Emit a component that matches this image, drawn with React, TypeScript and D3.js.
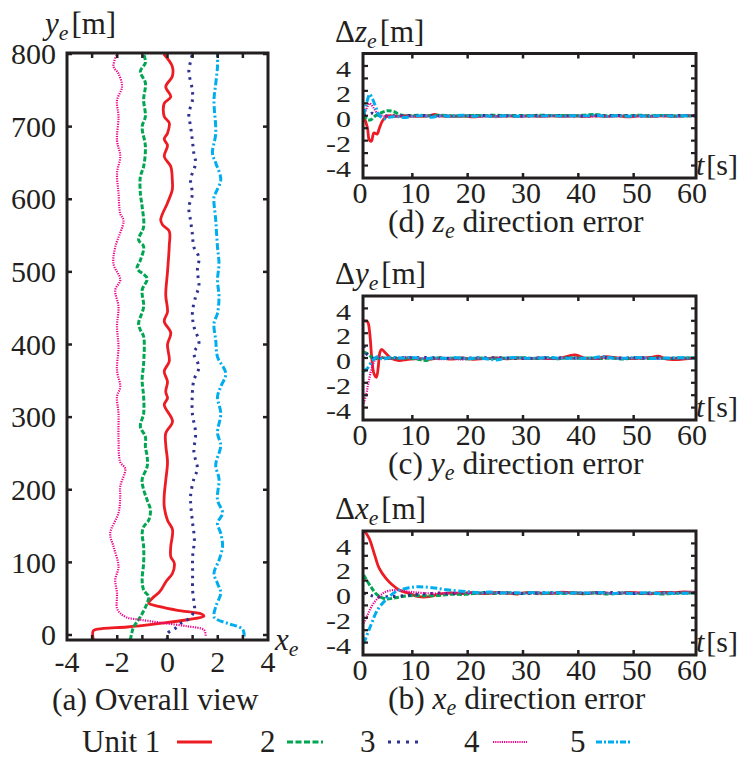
import React from 'react';
import * as d3 from 'd3';

const FAMILY = 'Liberation Serif';
const TS = { fontFamily: `'${FAMILY}'` };
const INK = '#231f20';

// ---- series styling ----
const unitNames = ['Unit 1', '2', '3', '4', '5'];
const unitColors = ['#ed1c24', '#00a651', '#2e3192', '#ec008c', '#00aeef'];
const unitWidths = [2.8, 3, 3, 2.2, 3];
const unitDashes = ['none', '5 2', '2.5 5', '1.2 1.2', '7 2.5 2 2.5'];
const legendDashes = ['none', '6 2.5', '3 6', '1.2 1', '6 2 2 2'];

// ---- ticks ----
const overviewXTicks = [-4, -2, 0, 2, 4];
const overviewXMinor = [-3, -2, -1, 0, 1, 2, 3];
const overviewYTicks = [0, 100, 200, 300, 400, 500, 600, 700, 800];
const errYTicks = [4, 2, 0, -2, -4];
const errYMinor = [-4, -3, -2, -1, 0, 1, 2, 3, 4];
const timeTicks = [0, 10, 20, 30, 40, 50, 60];
const timeMinor = [10, 20, 30, 40, 50];

// ---- (a) overall view: [x_e, y_e] ----
const unit1Path = [[-2.95,-7],[-2.95,6],[-2.55,9],[-1.6,11],[-0.3,16],[0.8,21],[1.45,26],[1.35,29],[0.4,34],[-0.3,39],[-0.75,44],[-0.62,50],[-0.3,60],[-0.05,74],[0.2,85],[0.27,99],[0.13,108],[0.13,122],[0.2,145],[0.0,158],[-0.13,177],[-0.13,192],[-0.07,213],[0,238],[-0.07,262],[-0.07,278],[0.2,294],[-0.13,317],[0,326],[-0.07,335],[0,349],[-0.13,363],[0.07,377],[0,400],[0.13,416],[-0.13,432],[0,445],[-0.07,468],[0,500],[0.07,536],[0.07,556],[-0.2,565],[-0.27,572],[0,595],[0.19,613],[0.19,627],[0.13,645],[-0.13,659],[0,674],[-0.13,683],[0,691],[0.07,705],[-0.13,714],[-0.13,732],[0.13,741],[-0.07,755],[0.19,769],[0.19,783],[-0.15,800]];
const unit2Path = [[-1.48,-7],[-1.42,3],[-1.35,11],[-1.08,25],[-0.81,44],[-0.75,53],[-0.95,62],[-1.01,76],[-0.95,99],[-0.95,122],[-1.01,140],[-0.95,149],[-0.75,158],[-0.68,172],[-0.81,186],[-0.95,200],[-1.01,214],[-0.81,232],[-0.81,246],[-0.88,259],[-0.88,273],[-1.08,287],[-0.95,305],[-0.95,328],[-1.01,351],[-0.95,374],[-0.95,411],[-1.08,420],[-1.15,429],[-0.95,452],[-1.01,475],[-0.81,491],[-1.21,505],[-1.08,516],[-0.95,535],[-1.15,544],[-0.95,562],[-1.01,590],[-1.08,608],[-1.08,631],[-0.95,645],[-0.88,673],[-1.01,700],[-0.88,714],[-0.95,737],[-0.88,760],[-1.08,776],[-0.88,788],[-0.95,800]];
const unit3Path = [[0,-7],[0,2],[0.27,8],[0.53,16],[0.87,23],[1.07,34],[1.05,46],[1.0,62],[1.0,85],[1.0,108],[1.07,131],[1.0,154],[0.93,177],[0.92,192],[1.05,215],[1.19,229],[1.05,252],[1.12,278],[0.99,305],[0.99,333],[1.05,351],[1.25,369],[1.05,388],[1.25,402],[1.05,425],[0.99,443],[1.12,466],[1.25,480],[1.19,502],[1.25,520],[1.05,534],[0.99,552],[0.92,570],[0.85,589],[0.99,607],[0.92,627],[1.12,650],[1.05,663],[0.99,681],[0.92,700],[0.85,718],[0.99,736],[0.99,750],[0.85,776],[0.92,790],[0.99,800]];
const unit4Path = [[1.52,-1],[1.45,7],[0.79,12],[-0.28,17],[-1.08,21],[-1.61,24],[-1.88,30],[-2.01,37],[-2.01,58],[-2.08,76],[-1.95,94],[-2.15,122],[-2.28,140],[-1.95,168],[-1.88,190],[-1.88,205],[-1.68,229],[-1.88,238],[-1.95,270],[-1.95,305],[-2.01,328],[-1.88,342],[-2.01,364],[-1.95,397],[-2.01,425],[-1.95,452],[-2.08,475],[-1.88,489],[-2.15,511],[-2.08,534],[-1.75,571],[-1.88,580],[-1.95,609],[-2.01,636],[-1.88,659],[-2.01,681],[-1.95,714],[-2.01,736],[-1.81,755],[-1.95,773],[-2.15,783],[-2.01,800]];
const unit5Path = [[3.05,-2],[2.99,8],[2.39,16],[1.99,21],[1.85,25],[1.92,39],[2.12,58],[1.99,71],[1.85,85],[2.05,103],[2.19,122],[2.12,140],[1.99,154],[2.19,168],[1.99,186],[2.05,215],[1.92,234],[2.12,261],[1.99,278],[2.12,305],[1.99,328],[2.12,342],[2.32,360],[1.99,383],[1.92,406],[1.85,429],[1.99,443],[2.05,466],[1.99,489],[2.05,511],[1.99,534],[1.92,571],[1.85,603],[1.92,609],[2.12,627],[1.92,650],[1.79,663],[1.92,691],[1.85,736],[1.92,759],[1.99,783],[1.99,800]];
const overviewPaths = [unit1Path, unit2Path, unit3Path, unit4Path, unit5Path];

// ---- (b) x_e direction error: [t, dx] ----
const dx1 = [[1.2,5.1],[2.2,4.4],[3.1,3.2],[4.0,2.0],[5.2,1.2],[6.4,0.65],[7.6,0.25],[9.4,-0.03],[11.2,-0.3],[13,-0.3],[14.8,-0.1],[17,0],[19,-0.05],[21,0.05],[23,-0.05],[25,0.05],[27,0],[29,-0.08],[31,0.05],[33,0],[35,-0.05],[37,0.06],[39,0],[41,-0.06],[43,0.04],[45,0],[47,-0.05],[49,0.05],[51,0],[53,-0.06],[55,0.05],[57,0.03],[59,0.08],[61.4,0.05]];
const dx2 = [[1.2,1.45],[2.5,0.5],[3.7,-0.16],[5.2,-0.48],[7,-0.38],[9.4,-0.22],[11.8,-0.22],[14.8,-0.2],[17,-0.1],[19,-0.12],[21,-0.05],[23,0],[25,-0.05],[27,0.03],[29,-0.04],[31,0],[33,-0.06],[35,0],[37,-0.05],[39,0.02],[41,-0.03],[43,0],[45,-0.08],[47,-0.03],[49,0],[51,-0.05],[53,0],[55,-0.08],[57,-0.04],[59,0],[61.4,-0.02]];
const dx3 = [[1.2,0],[2.2,-0.15],[3.4,-0.3],[5.8,-0.3],[8.8,-0.2],[11,-0.1],[13,-0.05],[15,0],[17,-0.05],[19,0.03],[21,0],[24,0.05],[27,0],[30,-0.04],[33,0],[36,0.03],[39,0],[42,-0.03],[45,0.05],[48,0],[51,-0.04],[54,0],[57,0.03],[60,0],[61.4,0]];
const dx4 = [[1.2,-2.45],[1.9,-1.77],[2.8,-0.97],[4,-0.3],[5.2,0.1],[7,0.24],[9.4,0.1],[12,0],[15,-0.05],[18,0.03],[21,0],[24,-0.04],[27,0.02],[30,0],[33,-0.03],[36,0],[39,0.03],[42,0],[45,-0.03],[48,0],[51,0.02],[54,-0.04],[57,0],[60,0.05],[61.4,0.03]];
const dx5 = [[1.2,-4.1],[2.5,-2.6],[3.7,-1.37],[5.2,-0.56],[7,0.1],[9.4,0.43],[11.2,0.5],[13.6,0.43],[16.6,0.24],[20.2,0.1],[22,0.02],[24,0.08],[26,0],[28,0.05],[30,-0.02],[32,0.05],[34,0],[36,0.04],[38,-0.03],[40,0.02],[42,0],[44,0.04],[46,-0.05],[48,0],[50,-0.04],[52,0.03],[54,-0.03],[56,0],[58,-0.05],[60,0],[61.4,0]];

// ---- (c) y_e direction error ----
const dy1 = [[1.2,3.0],[1.9,2.93],[2.3,2.0],[2.65,0.1],[3.05,-1.24],[3.5,-1.56],[3.85,-0.7],[4.1,0.38],[4.45,0.7],[5.2,0.38],[6.1,0],[7.6,-0.2],[9,-0.12],[11,-0.05],[13,-0.1],[15,0],[17,-0.08],[19,0],[21,-0.1],[23,-0.05],[25,0],[27,-0.07],[29,0],[31,-0.05],[33,0],[35,-0.05],[37,0],[38.5,0.2],[39.5,0.25],[41,0],[43,-0.05],[45,0.1],[47,0],[49,-0.05],[51,0],[53,0.05],[54.5,0.15],[56,-0.1],[58,-0.12],[60,-0.05],[61.4,0]];
const dy2 = [[1.2,0.5],[2.2,0.24],[3.1,-0.1],[4,0.05],[5,0],[7,-0.05],[9,0],[11,-0.1],[12.5,-0.2],[14,0],[16,-0.05],[18,0],[20,-0.08],[22,0],[24,-0.05],[26,0],[28,-0.04],[30,0.03],[32,-0.05],[34,0],[36,-0.06],[38,0],[40,-0.03],[42,0],[44,-0.05],[46,0],[48,-0.08],[50,0],[52,-0.05],[54,0],[56,-0.05],[58,0],[61.4,0]];
const dy3 = [[1.2,0.97],[1.9,0.24],[2.8,0],[4,-0.05],[6,0],[9,0.03],[12,0.05],[15,0],[18,-0.03],[21,0],[24,0.03],[27,0],[30,-0.05],[33,0],[36,0.03],[39,0],[42,-0.03],[45,0.05],[48,0],[51,0.03],[54,0],[57,-0.03],[60,0],[61.4,0]];
const dy4 = [[1.2,-3.66],[1.7,-2.85],[2.05,-2.04],[2.5,-1.1],[3.1,-0.3],[3.7,0.1],[5,0],[7,-0.05],[9,0.05],[11,-0.05],[13,0],[15,-0.1],[17,-0.05],[19,-0.12],[21,0],[23,-0.05],[25,0],[27,-0.05],[29,0.02],[31,-0.05],[33,0],[35,-0.08],[37,0],[39,-0.04],[41,0],[43,-0.06],[45,0],[47,-0.04],[49,0],[51,-0.05],[53,0],[55,-0.03],[57,0],[59,-0.05],[61.4,0]];
const dy5 = [[1.2,-1.1],[1.9,-0.83],[2.8,-0.22],[3.7,0.1],[4.6,-0.1],[6,0.05],[8,0],[10,0.05],[12,-0.05],[14,0],[16,-0.03],[18,0.02],[20,-0.05],[22,0],[24,-0.1],[25.5,-0.15],[27,0],[29,0.03],[31,-0.03],[33,0],[35,0.04],[37,-0.03],[39,0],[41,-0.03],[43,0.03],[44.5,0.12],[46,0],[48,-0.03],[50,0.03],[52,0],[54,-0.05],[56,0],[58,0.03],[60,0],[61.4,0]];

// ---- (d) z_e direction error ----
const dz1 = [[1.2,0],[1.9,-1.0],[2.2,-1.92],[2.6,-2.05],[3.05,-1.39],[3.65,-1.47],[3.95,-1.12],[4.55,-0.45],[5.15,-0.13],[5.8,0],[7,-0.05],[9,0],[11,-0.05],[13,0],[14,0.1],[15,0],[17,-0.05],[19,0],[21,-0.08],[23,0],[25,-0.05],[27,0],[29,-0.05],[31,0],[33,-0.04],[35,0],[37,-0.05],[39,0],[41,-0.06],[43,0],[45,-0.05],[47,0],[49,-0.08],[51,0],[53,-0.05],[55,0],[57,-0.05],[59,0],[61.4,0]];
const dz2 = [[1.2,0.08],[1.9,-0.32],[2.5,-0.32],[3.35,0],[4.25,0.21],[5.5,0.4],[6.7,0.32],[7.6,0.1],[9,0],[11,0.05],[13,0],[15,0.05],[17,0],[19,-0.03],[21,0.03],[23,0],[25,0.05],[27,0],[29,0.03],[31,0],[33,0.05],[35,0],[37,0.03],[39,0],[41,0.05],[43,0.1],[45,0],[47,0.03],[49,0],[51,0.04],[53,0],[55,0.03],[57,0],[59,-0.03],[61.4,0]];
const dz3 = [[1.2,0],[1.9,0.08],[2.75,0.21],[3.6,0.05],[5,0],[8,0],[11,0.03],[14,0],[17,-0.03],[20,0],[23,0.03],[26,0],[29,-0.03],[32,0],[35,0.03],[38,0],[41,-0.03],[44,0],[47,0.03],[50,0],[53,-0.03],[56,0],[59,0.03],[61.4,0]];
const dz4 = [[1.2,0],[1.9,0.74],[2.3,1.0],[3.05,0.6],[3.65,0.2],[4.6,0],[6,-0.05],[8,0],[10,-0.05],[12,0],[14,-0.05],[16,0],[18,-0.05],[20,0],[22,-0.08],[24,0],[26,-0.05],[28,0],[30,-0.05],[32,0],[34,-0.05],[36,0],[38,-0.05],[40,0],[42,-0.05],[44,0],[46,-0.05],[48,0],[50,-0.06],[52,0],[54,-0.05],[56,0],[58,-0.05],[60,0],[61.4,0]];
const dz5 = [[1.2,0],[1.9,1.28],[2.3,1.73],[2.75,1.41],[3.35,0.75],[3.95,0.08],[4.85,-0.24],[5.8,-0.13],[7,-0.05],[8.5,-0.15],[10,-0.05],[12,0],[13.5,-0.12],[15,0],[17,-0.05],[19,0.05],[21,-0.05],[23,0],[25,-0.08],[27,0.03],[29,-0.05],[31,0],[33,-0.05],[35,0.03],[37,-0.05],[39,0],[41,-0.03],[43,0.05],[45,-0.05],[47,0],[49,-0.05],[51,0],[53,-0.05],[55,0.03],[57,-0.05],[59,0],[61.4,0]];

// ---- layout ----
const OV = { left: 67, right: 268, top: 53, bottom: 640 };
const ERR_LEFT = 363, ERR_RIGHT = 696;
const panels = [
  { id: 'd', top: 53.5, bottom: 178, series: [dz1, dz2, dz3, dz4, dz5], sym: 'z', caption: '(d) ' },
  { id: 'c', top: 296, bottom: 420, series: [dy1, dy2, dy3, dy4, dy5], sym: 'y', caption: '(c) ' },
  { id: 'b', top: 531, bottom: 655, series: [dx1, dx2, dx3, dx4, dx5], sym: 'x', caption: '(b) ' },
];

const ovX = d3.scaleLinear().domain([-4, 4]).range([OV.left, OV.right]);
const ovY = d3.scaleLinear().domain([0, 800]).range([635, 54]);
const tX = d3.scaleLinear().domain([0, 60]).range([357, 689]);

function T(props: any) {
  return <text fontFamily={FAMILY} style={TS} fill={INK} {...props} />;
}

function Sub({ base, sub, size }: any) {
  return (
    <>
      <tspan fontStyle="italic">{base}</tspan>
      <tspan fontStyle="italic" fontSize={size * 0.7} dy={size * 0.2}>{sub}</tspan>
    </>
  );
}

export default function App() {
  const ovLine = d3.line<number[]>().x(d => ovX(d[0])).y(d => ovY(d[1])).curve(d3.curveCatmullRom.alpha(0.5));
  const tick = 5;
  return (
    <svg width={750} height={761} fontFamily={FAMILY} style={{ position: 'absolute', left: 0, top: 0, background: '#fff', fontFamily: `'${FAMILY}'` }}>
      <style>{`text, tspan { font-family: '${FAMILY}' !important; }`}</style>
      <defs>
        <clipPath id="clip-ov"><rect x={OV.left} y={OV.top} width={OV.right - OV.left} height={OV.bottom - OV.top} /></clipPath>
        {panels.map(p => (
          <clipPath key={p.id} id={`clip-${p.id}`}><rect x={ERR_LEFT} y={p.top} width={ERR_RIGHT - ERR_LEFT} height={p.bottom - p.top} /></clipPath>
        ))}
      </defs>

      {/* ===== (a) Overall view ===== */}
      <g clipPath="url(#clip-ov)">
        {overviewPaths.map((pts, i) => (
          <path key={i} d={ovLine(pts as any) || ''} fill="none" stroke={unitColors[i]} strokeWidth={unitWidths[i]}
            strokeDasharray={unitDashes[i]} strokeLinejoin="round" />
        ))}
      </g>
      {overviewXMinor.map(v => (
        <g key={v}>
          <line x1={ovX(v)} x2={ovX(v)} y1={OV.top} y2={OV.top + tick} stroke={INK} strokeWidth={2.5} />
          <line x1={ovX(v)} x2={ovX(v)} y1={OV.bottom} y2={OV.bottom - tick} stroke={INK} strokeWidth={2.5} />
        </g>
      ))}
      {overviewYTicks.map(v => (
        <g key={v}>
          <line x1={OV.left} x2={OV.left + tick} y1={ovY(v)} y2={ovY(v)} stroke={INK} strokeWidth={2.5} />
          <line x1={OV.right} x2={OV.right - tick} y1={ovY(v)} y2={ovY(v)} stroke={INK} strokeWidth={2.5} />
          <T x={56} y={ovY(v)} dy="0.34em" textAnchor="end" fontSize={30}>{v}</T>
        </g>
      ))}
      {overviewXTicks.map(v => (
        <T key={v} x={ovX(v)} y={672} textAnchor="middle" fontSize={30}>{v}</T>
      ))}
      <rect x={OV.left} y={OV.top} width={OV.right - OV.left} height={OV.bottom - OV.top} fill="none" stroke={INK} strokeWidth={3} />
      <T x={45} y={34} fontSize={31}>
        <Sub base="y" sub="e" size={31} />
        <tspan dy={-6.2} dx={3}>[m]</tspan>
      </T>
      <T x={275} y={650} fontSize={31}>
        <Sub base="x" sub="e" size={31} />
      </T>
      <T x={52} y={710} fontSize={31.5}>(a) Overall view</T>

      {/* ===== error panels ===== */}
      {panels.map(p => {
        const yS = d3.scaleLinear().domain([-5, 5]).range([p.bottom, p.top]);
        const line = d3.line<number[]>().x(d => tX(d[0])).y(d => yS(d[1])).curve(d3.curveCatmullRom.alpha(0.5));
        return (
          <g key={p.id}>
            <g clipPath={`url(#clip-${p.id})`}>
              {p.series.map((s, i) => (
                <path key={i} d={line(s as any) || ''} fill="none" stroke={unitColors[i]} strokeWidth={unitWidths[i]}
                  strokeDasharray={unitDashes[i]} strokeLinejoin="round" />
              ))}
            </g>
            {errYMinor.map(v => (
              <g key={v}>
                <line x1={ERR_LEFT} x2={ERR_LEFT + tick} y1={yS(v)} y2={yS(v)} stroke={INK} strokeWidth={2.2} />
                <line x1={ERR_RIGHT} x2={ERR_RIGHT - tick} y1={yS(v)} y2={yS(v)} stroke={INK} strokeWidth={2.2} />
              </g>
            ))}
            {timeMinor.map(v => (
              <g key={v}>
                <line x1={tX(v)} x2={tX(v)} y1={p.top} y2={p.top + tick} stroke={INK} strokeWidth={2.5} />
                <line x1={tX(v)} x2={tX(v)} y1={p.bottom} y2={p.bottom - tick} stroke={INK} strokeWidth={2.5} />
              </g>
            ))}
            {errYTicks.map(v => (
              <g key={v} transform={`translate(351, ${yS(v) + 3}) scale(1, 0.8)`}>
                <T x={0} y={0} dy="0.34em" textAnchor="end" fontSize={30}>{v}</T>
              </g>
            ))}
            {timeTicks.map(v => (
              <T key={v} x={tX(v) + 3} y={p.bottom + 25} textAnchor="middle" fontSize={30}>{v}</T>
            ))}
            <rect x={ERR_LEFT} y={p.top} width={ERR_RIGHT - ERR_LEFT} height={p.bottom - p.top} fill="none" stroke={INK} strokeWidth={3} />
            <T x={335} y={p.top - 12} fontSize={31}>
              <tspan>Δ</tspan>
              <Sub base={p.sym} sub="e" size={31} />
              <tspan dy={-6.2} dx={3}>[m]</tspan>
            </T>
            <T x={696} y={p.bottom - 3} fontSize={30}>
              <tspan fontStyle="italic">t</tspan><tspan dx={2}>[s]</tspan>
            </T>
            <T x={388} y={p.bottom + 54} fontSize={31.5}>
              <tspan>{p.caption}</tspan>
              <Sub base={p.sym} sub="e" size={31.5} />
              <tspan dy={-6.3}>{' direction error'}</tspan>
            </T>
          </g>
        );
      })}

      {/* ===== legend ===== */}
      {(() => {
        const items = [
          { tx: 82, x1: 177, x2: 212 },
          { tx: 260, x1: 287, x2: 323 },
          { tx: 360, x1: 388, x2: 421 },
          { tx: 464, x1: 493, x2: 527 },
          { tx: 570, x1: 596, x2: 632 },
        ];
        return items.map((it, i) => (
          <g key={i}>
            <T x={it.tx} y={752} fontSize={31}>{unitNames[i]}</T>
            <line x1={it.x1} x2={it.x2} y1={742} y2={742} stroke={unitColors[i]} strokeWidth={unitWidths[i]} strokeDasharray={legendDashes[i]} />
          </g>
        ));
      })()}
    </svg>
  );
}
